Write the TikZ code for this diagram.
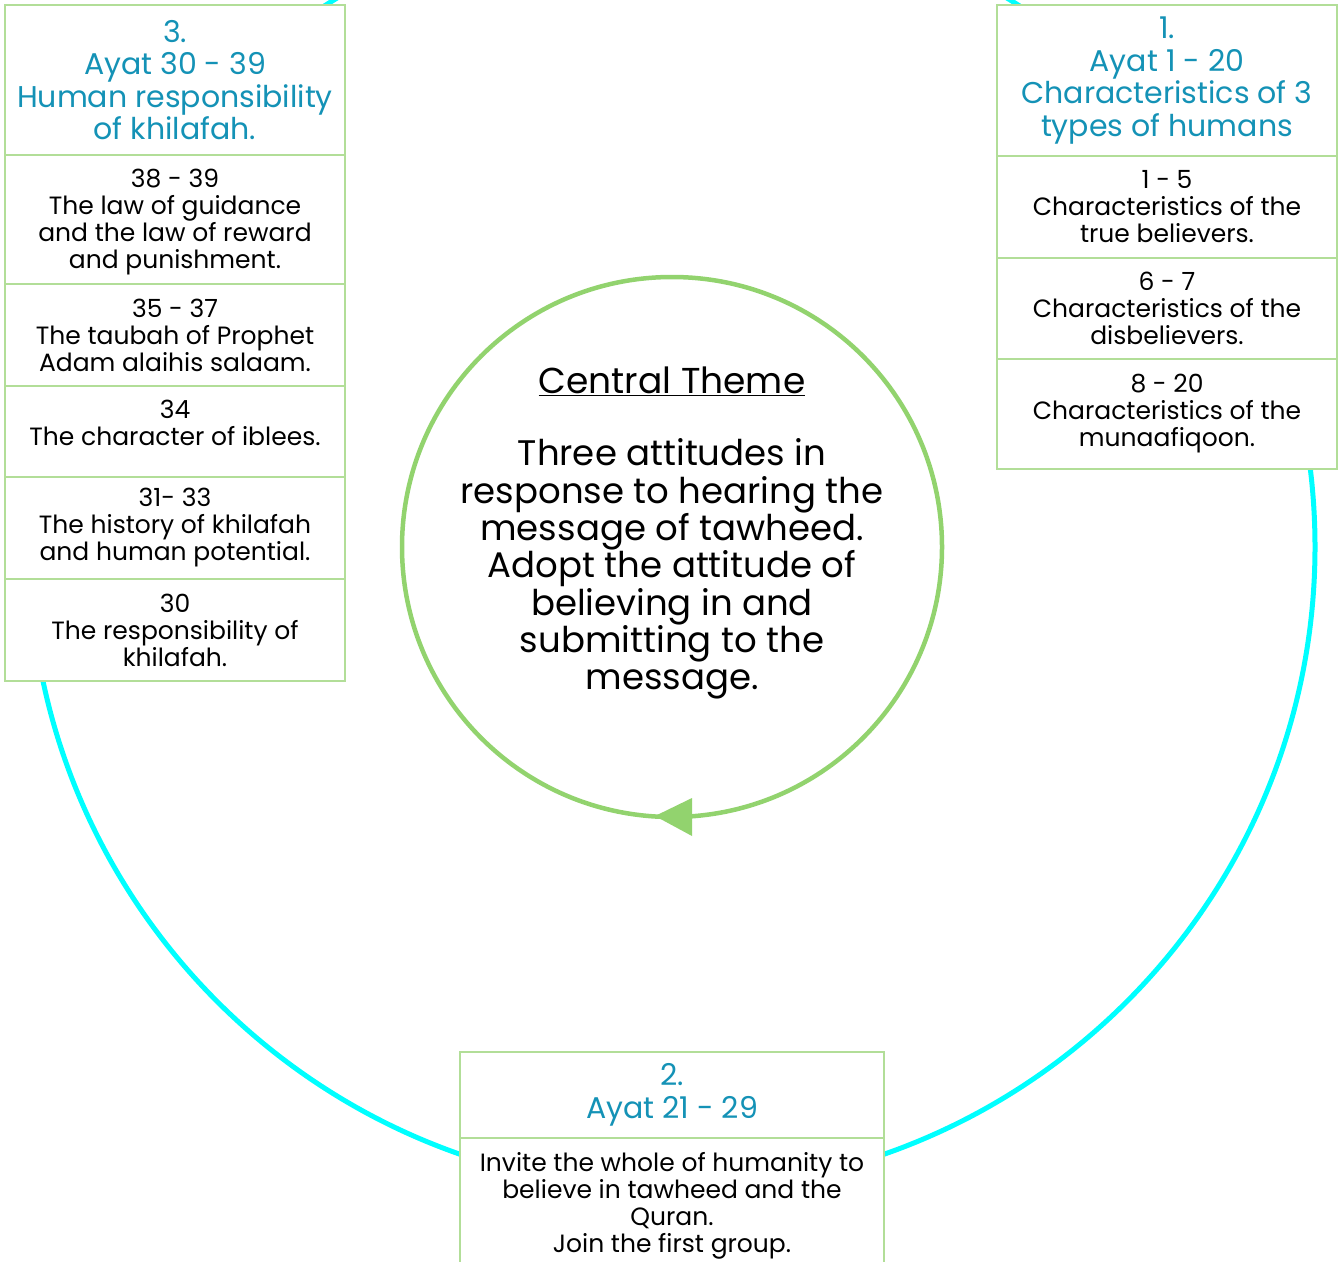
\documentclass[tikz,border=0pt]{standalone}
\usepackage{fontspec}
\setmainfont{Poppins}
\begin{document}
\begin{tikzpicture}[x=1pt,y=-1pt,
  cell/.style={draw=bgreen, fill=white, line width=1.2pt, align=center, inner sep=0pt, text=black, font=\fontsize{25}{27}\selectfont},
  head/.style={cell, text=hblue, font=\fontsize{30}{32.5}\selectfont},
  txt/.style={align=center, inner sep=0pt, font=\fontsize{25}{27}\selectfont},
  ]
\definecolor{bgreen}{HTML}{B2DE98}
\definecolor{hblue}{HTML}{1492B6}
\definecolor{cgreen}{HTML}{92D36E}
\definecolor{cyanc}{HTML}{00FFFF}
\useasboundingbox (0,0) rectangle (1340,1261);
\coordinate (c) at (672,547);
\draw[cyanc, line width=5pt] (c) circle (643);
% right box
\node[head, minimum width=340, minimum height=151] (r0) at (1167,80.5) {1.\\Ayat 1 - 20\\Characteristics of 3\\types of humans};
\node[cell, minimum width=340, minimum height=102] (r1) at (1167,207) {1 - 5\\Characteristics of the\\true believers.};
\node[cell, minimum width=340, minimum height=101] (r2) at (1167,308.5) {6 - 7\\Characteristics of the\\disbelievers.};
\node[cell, minimum width=340, minimum height=110] (r3) at (1167,414) {8 - 20\\Characteristics of the\\munaafiqoon.};
% left box
\node[head, minimum width=340, minimum height=150] (l0) at (175,80) {3.\\Ayat 30 - 39\\Human responsibility\\of khilafah.};
\node[cell, minimum width=340, minimum height=129] (l1) at (175,219.5) {};
\node[txt] (l1t) at (175,222) {38 - 39\\The law of guidance\\and the law of reward\\and punishment.};
\node[cell, minimum width=340, minimum height=102] (l2) at (175,335) {35 - 37\\The taubah of Prophet\\Adam alaihis salaam.};
\node[cell, minimum width=340, minimum height=91] (l3) at (175,431.5) {};
\node[txt] (l3t) at (175,423) {34\\The character of iblees.};
\node[cell, minimum width=340, minimum height=102] (l4) at (175,528) {31- 33\\The history of khilafah\\and human potential.};
\node[cell, minimum width=340, minimum height=102] (l5) at (175,630) {30\\The responsibility of\\khilafah.};
% bottom box
\node[head, minimum width=424, minimum height=86] (b0) at (672,1095) {2.\\Ayat 21 - 29};
\node[cell, minimum width=424, minimum height=132] (b1) at (672,1204) {};
\node[txt] (b1t) at (672,1206) {Invite the whole of humanity to\\believe in tawheed and the\\Quran.\\Join the first group.};
% central circle
\draw[cgreen, line width=4.5pt] (c) circle (270);
\fill[cgreen] (692,798) -- (692,836) -- (655,816) -- cycle;
\node[font=\fontsize{36}{40}\selectfont] (title) at (672,381) {\underline{Central Theme}};
\node[align=center, font=\fontsize{35.5}{37.3}\selectfont, inner sep=0pt] (body) at (672,569) {Three attitudes in\\response to hearing the\\message of tawheed.\\Adopt the attitude of\\believing in and\\submitting to the\\message.};
\end{tikzpicture}
\end{document}
